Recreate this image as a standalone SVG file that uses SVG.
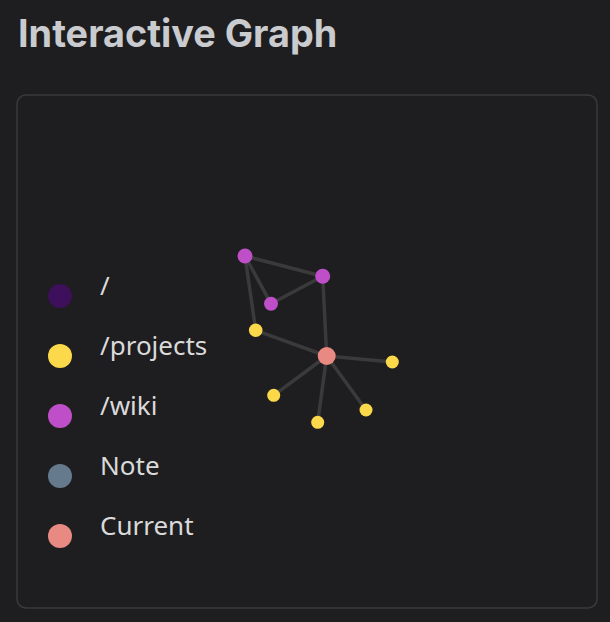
<svg xmlns="http://www.w3.org/2000/svg" width="610" height="622" viewBox="0 0 610 622">
<style>
.title{font-family:Inter,"Noto Sans",sans-serif;font-weight:700;font-size:37.8px;fill:#c9cbce}
.lbl{font-family:"Noto Sans","Open Sans",sans-serif;font-size:26px;fill:#dadada}
.edge{stroke:#3a3a3b;stroke-width:3.5;stroke-linecap:round}
.wiki{fill:#bf4fc8}
.proj{fill:#fbd94a}
.cur{fill:#e88982}
</style>
<rect width="610" height="622" fill="#1e1e20"/>
<text class="title" x="18" y="47">Interactive Graph</text>
<rect x="17" y="95" width="580" height="513" rx="9" fill="#1e1e20" stroke="#3a3a3c" stroke-width="1.5"/>
<g id="legend">
<g id="legend-root"><circle cx="60" cy="296" r="12" fill="#3e0f5a"/><text class="lbl" x="100" y="295">/</text></g>
<g id="legend-projects"><circle cx="60" cy="356" r="12" class="proj"/><text class="lbl" x="100" y="355">/projects</text></g>
<g id="legend-wiki"><circle cx="60" cy="416" r="12" class="wiki"/><text class="lbl" x="100" y="415">/wiki</text></g>
<g id="legend-note"><circle cx="60" cy="476" r="12" fill="#657a8d"/><text class="lbl" x="100" y="475">Note</text></g>
<g id="legend-current"><circle cx="60" cy="536" r="12" class="cur"/><text class="lbl" x="100" y="535">Current</text></g>
</g>
<g id="edges">
<line class="edge" x1="245" y1="256" x2="322.7" y2="276.3"/>
<line class="edge" x1="245" y1="256" x2="271" y2="303.7"/>
<line class="edge" x1="271" y1="303.7" x2="322.7" y2="276.3"/>
<line class="edge" x1="245" y1="256" x2="255.7" y2="330.3"/>
<line class="edge" x1="255.7" y1="330.3" x2="326.7" y2="356"/>
<line class="edge" x1="322.7" y1="276.3" x2="326.7" y2="356"/>
<line class="edge" x1="326.7" y1="356" x2="392.3" y2="362"/>
<line class="edge" x1="326.7" y1="356" x2="273.7" y2="395.3"/>
<line class="edge" x1="326.7" y1="356" x2="366" y2="410"/>
<line class="edge" x1="326.7" y1="356" x2="317.7" y2="422.3"/>
</g>
<g id="n-wiki-1"><circle cx="245" cy="256" r="7.5" class="wiki"/></g>
<g id="n-wiki-2"><circle cx="322.7" cy="276.3" r="7.5" class="wiki"/></g>
<g id="n-wiki-3"><circle cx="271" cy="303.7" r="7" class="wiki"/></g>
<g id="n-proj-1"><circle cx="255.7" cy="330.3" r="6.8" class="proj"/></g>
<g id="n-current"><circle cx="326.7" cy="356" r="9" class="cur"/></g>
<g id="n-proj-2"><circle cx="392.3" cy="362" r="6.5" class="proj"/></g>
<g id="n-proj-3"><circle cx="273.7" cy="395.3" r="6.5" class="proj"/></g>
<g id="n-proj-4"><circle cx="366" cy="410" r="6.5" class="proj"/></g>
<g id="n-proj-5"><circle cx="317.7" cy="422.3" r="6.5" class="proj"/></g>
</svg>
